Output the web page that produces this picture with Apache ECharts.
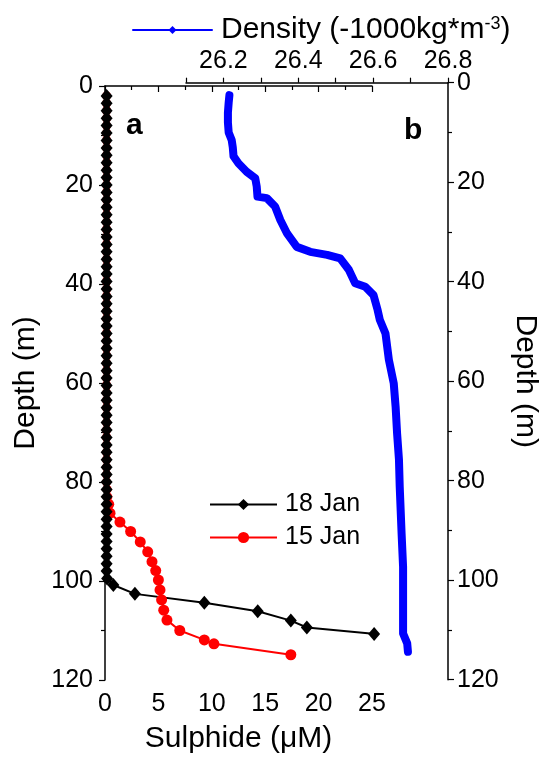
<!DOCTYPE html>
<html>
<head>
<meta charset="utf-8">
<script src="https://cdn.jsdelivr.net/npm/echarts@6/dist/echarts.min.js"></script>
<style>
html,body{margin:0;padding:0;background:#fff;}
#chart{width:548px;height:760px;}
</style>
</head>
<body>
<div id="chart"></div>
<script>
// ---- Data ----
// 18 Jan sulphide profile: depth (m) and sulphide (µM)
const jan18Depth = [2,3.5,5,6.5,8,9.5,11,12.5,14,15.5,17,18.5,20,21.5,23,24.5,26,27.5,29,30.5,32,33.5,35,36.5,38,39.5,41,42.5,44,45.5,47,48.5,50,51.5,53,54.5,56,57.5,59,60.5,62,63.5,65,66.5,68,69.5,71,72.5,74,75.5,77,78.5,80,81.5,83,84.5,86,87.5,89,90.5,92,93.5,95,96.5,98,99.5,100.8,102.6,104.4,106.1,108.0,109.4,110.7];
const jan18Sulph = [0.15,0.15,0.15,0.15,0.15,0.15,0.15,0.15,0.15,0.15,0.15,0.15,0.15,0.15,0.15,0.15,0.15,0.15,0.15,0.15,0.15,0.15,0.15,0.15,0.15,0.15,0.15,0.15,0.15,0.15,0.15,0.15,0.15,0.15,0.15,0.15,0.15,0.15,0.15,0.15,0.15,0.15,0.15,0.15,0.15,0.15,0.15,0.15,0.15,0.15,0.15,0.15,0.15,0.15,0.15,0.15,0.15,0.15,0.15,0.15,0.15,0.15,0.15,0.15,0.15,0.2,0.78,2.8,9.3,14.3,17.4,18.9,25.2];
// 15 Jan sulphide profile
const jan15Depth = [2,3.5,5,6.5,8,9.5,11,12.5,14,15.5,17,18.5,20,21.5,23,24.5,26,27.5,29,30.5,32,33.5,35,36.5,38,39.5,41,42.5,44,45.5,47,48.5,50,51.5,53,54.5,56,57.5,59,60.5,62,63.5,65,66.5,68,69.5,71,72.5,74,75.5,77,78.5,80,81.5,83,84.5,86.3,88.1,90.0,92.1,94.1,96.1,97.9,99.8,101.8,103.8,105.9,107.9,110.0,111.9,112.7,114.9];
const jan15Sulph = [0.15,0.15,0.15,0.15,0.15,0.15,0.15,0.15,0.15,0.15,0.15,0.15,0.15,0.15,0.15,0.15,0.15,0.15,0.15,0.15,0.15,0.15,0.15,0.15,0.15,0.15,0.15,0.15,0.15,0.15,0.15,0.15,0.15,0.15,0.15,0.15,0.15,0.15,0.15,0.15,0.15,0.15,0.15,0.15,0.15,0.15,0.15,0.15,0.15,0.15,0.15,0.15,0.15,0.2,0.27,0.35,0.47,1.4,2.4,3.3,4.0,4.4,4.75,5.0,5.15,5.3,5.5,5.8,7.0,9.3,10.2,17.4];
// Density profile (sigma, -1000 kg m^-3)
const densDepth = [2.5,4,6,8,10,11.5,13,14.8,16.2,17.9,19.2,20.9,22.9,23.2,24.9,27.6,30.3,33.0,34.0,34.6,35.3,37.6,40.3,41.0,42.7,45.7,47.7,50.4,55.7,60.4,65.1,70.5,75.8,81.2,90.6,97.3,104.0,110.7,112.7,114.4];
const densValue = [26.216,26.214,26.212,26.212,26.214,26.222,26.225,26.227,26.240,26.262,26.285,26.289,26.291,26.316,26.338,26.352,26.370,26.396,26.432,26.477,26.512,26.535,26.552,26.579,26.601,26.612,26.618,26.633,26.642,26.655,26.660,26.664,26.669,26.671,26.676,26.680,26.680,26.680,26.691,26.693];
// Axis ticks
const sulphTicks = {min:0, max:25, interval:5};
const depthTicks = {min:0, max:120, interval:20};
const densTicks = {min:26.1, max:26.8, interval:0.1};

const FONT = "'Liberation Sans', Arial, sans-serif";
const pairs = (xs, ys) => xs.map((x, i) => [x, ys[i]]);

const axisCommon = {
  axisLine:{show:true, lineStyle:{color:'#000', width:1.5}},
  axisTick:{show:true, inside:false, length:6, lineStyle:{color:'#000', width:1.2}},
  minorTick:{show:true, splitNumber:2, length:4, lineStyle:{color:'#000', width:1.2}},
  splitLine:{show:false},
  axisLabel:{color:'#000', fontSize:25, fontFamily:FONT},
  nameTextStyle:{color:'#000', fontSize:30, fontFamily:FONT}
};

const chart = echarts.init(document.getElementById('chart'), null, {renderer:'canvas'});
chart.setOption({
  backgroundColor:'#fff',
  animation:false,
  textStyle:{fontFamily:FONT},
  grid:[
    {left:105, top:86, width:267, height:594},
    {left:186, top:82.7, width:262, height:597}
  ],
  xAxis:[
    Object.assign({}, axisCommon, {
      gridIndex:0, type:'value', position:'bottom',
      min:sulphTicks.min, max:sulphTicks.max, interval:sulphTicks.interval,
      axisLabel:Object.assign({}, axisCommon.axisLabel, {margin:12}),
      name:'Sulphide (μM)', nameLocation:'middle', nameGap:44
    }),
    Object.assign({}, axisCommon, {
      gridIndex:1, type:'value', position:'top',
      min:densTicks.min, max:densTicks.max, interval:densTicks.interval,
      minorTick:{show:false},
      axisTick:{show:true, length:5, lineStyle:{color:'#000', width:1.2}},
      axisLabel:Object.assign({}, axisCommon.axisLabel, {margin:9,
        formatter:function(v){ return Math.round(v*10)%2===0 ? v.toFixed(1) : ''; }})
    })
  ],
  yAxis:[
    Object.assign({}, axisCommon, {
      gridIndex:0, type:'value', position:'left', inverse:true,
      min:depthTicks.min, max:depthTicks.max, interval:depthTicks.interval,
      axisLabel:Object.assign({}, axisCommon.axisLabel, {margin:12}),
      name:'Depth (m)', nameLocation:'middle', nameGap:64
    }),
    Object.assign({}, axisCommon, {
      gridIndex:1, type:'value', position:'right', inverse:true,
      min:depthTicks.min, max:depthTicks.max, interval:depthTicks.interval,
      axisLabel:Object.assign({}, axisCommon.axisLabel, {margin:9}),
      name:'Depth (m)', nameLocation:'middle', nameGap:62, nameRotate:-90
    })
  ],
  legend:[
    {
      data:['18 Jan','15 Jan'], orient:'vertical', left:204, top:487,
      itemWidth:67, itemHeight:14, itemGap:8, selectedMode:false,
      textStyle:{color:'#000', fontSize:25, fontFamily:FONT, padding:[0,0,0,3]}
    },
    {
      data:['Density'], left:127, top:10,
      itemWidth:79, itemHeight:10, selectedMode:false,
      lineStyle:{width:2}, itemStyle:{color:'#0000ff'},
      formatter:function(){ return '{a|Density (-1000kg*m}{s|-3}{a|)}'; },
      textStyle:{color:'#000', fontFamily:FONT, padding:[0,0,0,4],
        rich:{
          a:{fontSize:30, fontFamily:FONT, color:'#000'},
          s:{fontSize:18, fontFamily:FONT, color:'#000', verticalAlign:'top', padding:[0,0,12,0]}
        }}
    }
  ],
  graphic:[
    {type:'text', left:126, top:111, style:{text:'a', font:"bold 30px "+FONT, fill:'#000'}},
    {type:'text', left:404, top:116, style:{text:'b', font:"bold 30px "+FONT, fill:'#000'}}
  ],
  series:[
    {
      name:'15 Jan', type:'line', xAxisIndex:0, yAxisIndex:0,
      data:pairs(jan15Sulph, jan15Depth), clip:false,
      symbol:'circle', showSymbol:true,
      symbolSize:function(v){ return v[0] < 0.3 ? 9 : 11; },
      itemStyle:{color:'#ff0000'}, lineStyle:{color:'#ff0000', width:2}
    },
    {
      name:'18 Jan', type:'line', xAxisIndex:0, yAxisIndex:0,
      data:pairs(jan18Sulph, jan18Depth), clip:false,
      symbol:'diamond', symbolSize:[12,14], showSymbol:true,
      itemStyle:{color:'#000'}, lineStyle:{color:'#000', width:2}
    },
    {
      name:'Density', type:'line', xAxisIndex:1, yAxisIndex:1,
      data:pairs(densValue, densDepth), clip:false,
      symbol:'diamond', symbolSize:9, showSymbol:false,
      itemStyle:{color:'#0000ff'}, lineStyle:{color:'#0000ff', width:8, cap:'round', join:'round'}
    }
  ]
});
</script>
</body>
</html>
